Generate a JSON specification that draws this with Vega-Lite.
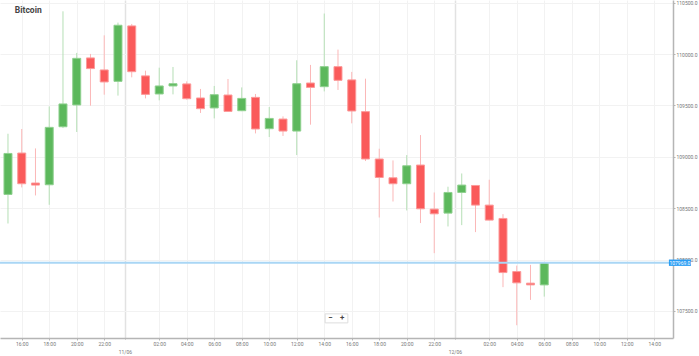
{
  "$schema": "https://vega.github.io/schema/vega-lite/v6.json",
  "width": 673,
  "height": 338,
  "autosize": "none",
  "padding": {"top": 0, "left": 0, "right": 26, "bottom": 18},
  "background": "white",
  "config": {"view": {"stroke": null}, "font": "Roboto"},
  "data": {"values": [
    {"t": "2025-06-10T15:00", "open": 108634, "high": 109225, "low": 108351, "close": 109033},
    {"t": "2025-06-10T16:00", "open": 109037, "high": 109271, "low": 108702, "close": 108738},
    {"t": "2025-06-10T17:00", "open": 108745, "high": 109082, "low": 108624, "close": 108725},
    {"t": "2025-06-10T18:00", "open": 108728, "high": 109491, "low": 108533, "close": 109287},
    {"t": "2025-06-10T19:00", "open": 109293, "high": 110417, "low": 109280, "close": 109515},
    {"t": "2025-06-10T20:00", "open": 109505, "high": 110012, "low": 109242, "close": 109959},
    {"t": "2025-06-10T21:00", "open": 109963, "high": 110002, "low": 109498, "close": 109859},
    {"t": "2025-06-10T22:00", "open": 109846, "high": 110183, "low": 109605, "close": 109729},
    {"t": "2025-06-10T23:00", "open": 109735, "high": 110307, "low": 109596, "close": 110281},
    {"t": "2025-06-11T00:00", "open": 110275, "high": 110294, "low": 109774, "close": 109829},
    {"t": "2025-06-11T01:00", "open": 109788, "high": 109839, "low": 109569, "close": 109608},
    {"t": "2025-06-11T02:00", "open": 109612, "high": 109868, "low": 109550, "close": 109690},
    {"t": "2025-06-11T03:00", "open": 109690, "high": 109875, "low": 109608, "close": 109712},
    {"t": "2025-06-11T04:00", "open": 109710, "high": 109735, "low": 109557, "close": 109566},
    {"t": "2025-06-11T05:00", "open": 109573, "high": 109661, "low": 109427, "close": 109469},
    {"t": "2025-06-11T06:00", "open": 109476, "high": 109690, "low": 109374, "close": 109605},
    {"t": "2025-06-11T07:00", "open": 109602, "high": 109758, "low": 109440, "close": 109442},
    {"t": "2025-06-11T08:00", "open": 109449, "high": 109676, "low": 109445, "close": 109569},
    {"t": "2025-06-11T09:00", "open": 109579, "high": 109612, "low": 109228, "close": 109271},
    {"t": "2025-06-11T10:00", "open": 109274, "high": 109485, "low": 109193, "close": 109374},
    {"t": "2025-06-11T11:00", "open": 109368, "high": 109394, "low": 109203, "close": 109251},
    {"t": "2025-06-11T12:00", "open": 109251, "high": 109940, "low": 109017, "close": 109712},
    {"t": "2025-06-11T13:00", "open": 109719, "high": 109895, "low": 109313, "close": 109676},
    {"t": "2025-06-11T14:00", "open": 109683, "high": 110395, "low": 109637, "close": 109878},
    {"t": "2025-06-11T15:00", "open": 109878, "high": 110044, "low": 109651, "close": 109745},
    {"t": "2025-06-11T16:00", "open": 109749, "high": 109827, "low": 109326, "close": 109446},
    {"t": "2025-06-11T17:00", "open": 109440, "high": 109761, "low": 108959, "close": 108979},
    {"t": "2025-06-11T18:00", "open": 108979, "high": 109079, "low": 108409, "close": 108799},
    {"t": "2025-06-11T19:00", "open": 108796, "high": 108965, "low": 108565, "close": 108738},
    {"t": "2025-06-11T20:00", "open": 108738, "high": 109017, "low": 108478, "close": 108913},
    {"t": "2025-06-11T21:00", "open": 108920, "high": 109212, "low": 108355, "close": 108494},
    {"t": "2025-06-11T22:00", "open": 108491, "high": 108653, "low": 108062, "close": 108445},
    {"t": "2025-06-11T23:00", "open": 108452, "high": 108709, "low": 108322, "close": 108653},
    {"t": "2025-06-12T00:00", "open": 108653, "high": 108838, "low": 108335, "close": 108725},
    {"t": "2025-06-12T01:00", "open": 108721, "high": 108725, "low": 108267, "close": 108530},
    {"t": "2025-06-12T02:00", "open": 108530, "high": 108777, "low": 108380, "close": 108384},
    {"t": "2025-06-12T03:00", "open": 108400, "high": 108442, "low": 107731, "close": 107873},
    {"t": "2025-06-12T04:00", "open": 107883, "high": 107941, "low": 107360, "close": 107773},
    {"t": "2025-06-12T05:00", "open": 107770, "high": 107948, "low": 107607, "close": 107753},
    {"t": "2025-06-12T06:00", "open": 107753, "high": 107969, "low": 107639, "close": 107969}
  ]},
  "resolve": {"axis": {"x": "independent", "y": "independent"}},
  "layer": [
    {
      "mark": {"type": "rule", "strokeWidth": 1},
      "encoding": {
        "x": {
          "field": "t", "type": "temporal", "title": null,
          "scale": {"domain": [{"year": 2025, "month": 6, "date": 10, "hours": 14, "minutes": 47}, {"year": 2025, "month": 6, "date": 12, "hours": 15}]},
          "axis": {
            "values": [
              {"year": 2025, "month": 6, "date": 10, "hours": 16},
              {"year": 2025, "month": 6, "date": 10, "hours": 18},
              {"year": 2025, "month": 6, "date": 10, "hours": 20},
              {"year": 2025, "month": 6, "date": 10, "hours": 22},
              {"year": 2025, "month": 6, "date": 10, "hours": 23, "minutes": 30},
              {"year": 2025, "month": 6, "date": 11, "hours": 2},
              {"year": 2025, "month": 6, "date": 11, "hours": 4},
              {"year": 2025, "month": 6, "date": 11, "hours": 6},
              {"year": 2025, "month": 6, "date": 11, "hours": 8},
              {"year": 2025, "month": 6, "date": 11, "hours": 10},
              {"year": 2025, "month": 6, "date": 11, "hours": 12},
              {"year": 2025, "month": 6, "date": 11, "hours": 14},
              {"year": 2025, "month": 6, "date": 11, "hours": 16},
              {"year": 2025, "month": 6, "date": 11, "hours": 18},
              {"year": 2025, "month": 6, "date": 11, "hours": 20},
              {"year": 2025, "month": 6, "date": 11, "hours": 22},
              {"year": 2025, "month": 6, "date": 11, "hours": 23, "minutes": 30},
              {"year": 2025, "month": 6, "date": 12, "hours": 2},
              {"year": 2025, "month": 6, "date": 12, "hours": 4},
              {"year": 2025, "month": 6, "date": 12, "hours": 6},
              {"year": 2025, "month": 6, "date": 12, "hours": 8},
              {"year": 2025, "month": 6, "date": 12, "hours": 10},
              {"year": 2025, "month": 6, "date": 12, "hours": 12},
              {"year": 2025, "month": 6, "date": 12, "hours": 14}
            ],
            "labelExpr": "minutes(datum.value) == 30 ? ['', timeFormat(time(datum.value) + 1800000, '%d/%m')] : timeFormat(datum.value, '%H:%M')",
            "labelFontSize": 5,
            "labelColor": "#777",
            "labelLineHeight": 8,
            "labelPadding": 1.5,
            "labelFlush": false,
            "labelOverlap": false,
            "domainColor": "#b5b5b5",
            "domainWidth": 1.5,
            "tickColor": {"condition": {"test": "minutes(datum.value) == 30", "value": "#aaa"}, "value": "#b5b5b5"},
            "tickSize": 2,
            "tickDash": {"condition": {"test": "minutes(datum.value) == 30", "value": [1, 1]}, "value": []},
            "grid": true,
            "gridColor": {"condition": {"test": "minutes(datum.value) == 30", "value": "#e2e2e2"}, "value": "#f2f2f2"},
            "gridWidth": {"condition": {"test": "minutes(datum.value) == 30", "value": 1.5}, "value": 1}
          }
        },
        "y": {
          "field": "low", "type": "quantitative", "title": null,
          "scale": {"domain": [107236, 110527], "nice": false, "zero": false},
          "axis": {
            "orient": "right",
            "values": [107500, 108000, 108500, 109000, 109500, 110000, 110500],
            "format": ".1f",
            "labelFontSize": 5,
            "labelColor": "#777",
            "labelPadding": 1,
            "tickSize": 2,
            "tickColor": "#b5b5b5",
            "domainColor": "#b5b5b5",
            "domainWidth": 1.5,
            "grid": true,
            "gridColor": "#f2f2f2"
          }
        },
        "y2": {"field": "high"},
        "color": {"condition": {"test": "datum.open < datum.close", "value": "#b5dfb5"}, "value": "#fbb8b8"}
      }
    },
    {
      "mark": {"type": "bar", "size": 8, "strokeWidth": 1},
      "encoding": {
        "x": {"field": "t", "type": "temporal", "axis": null},
        "y": {"field": "open", "type": "quantitative", "axis": null},
        "y2": {"field": "close"},
        "fill": {"condition": {"test": "datum.open < datum.close", "value": "#5cb85c"}, "value": "#fa5a5a"},
        "stroke": {"condition": {"test": "datum.open < datum.close", "value": "#8fd08f"}, "value": "#fc9a9a"}
      }
    },
    {
      "data": {"values": [{}]},
      "mark": {"type": "rule", "color": "#a9d6f5", "strokeWidth": 2},
      "encoding": {"y": {"datum": 107969, "type": "quantitative", "axis": null}}
    },
    {
      "data": {"values": [{}]},
      "mark": {"type": "rect", "fill": "#2a9df4", "clip": false},
      "encoding": {
        "x": {"datum": {"year": 2025, "month": 6, "date": 12, "hours": 15, "minutes": 4}, "type": "temporal", "axis": null},
        "x2": {"datum": {"year": 2025, "month": 6, "date": 12, "hours": 16, "minutes": 40}},
        "y": {"datum": 108000, "type": "quantitative", "axis": null},
        "y2": {"datum": 107938}
      }
    },
    {
      "data": {"values": [{}]},
      "mark": {"type": "text", "color": "white", "fontSize": 5, "align": "center", "baseline": "middle", "clip": false},
      "encoding": {
        "x": {"datum": {"year": 2025, "month": 6, "date": 12, "hours": 15, "minutes": 52}, "type": "temporal", "axis": null},
        "y": {"datum": 107969, "type": "quantitative", "axis": null},
        "text": {"value": "107969.0"}
      }
    },
    {
      "data": {"values": [{}]},
      "mark": {"type": "rect", "fill": "white", "stroke": "#dddddd", "strokeWidth": 1},
      "encoding": {
        "x": {"datum": {"year": 2025, "month": 6, "date": 11, "hours": 14, "minutes": 4}, "type": "temporal", "axis": null},
        "x2": {"datum": {"year": 2025, "month": 6, "date": 11, "hours": 15, "minutes": 43}},
        "y": {"datum": 107471, "type": "quantitative", "axis": null},
        "y2": {"datum": 107383}
      }
    },
    {
      "data": {"values": [{}]},
      "mark": {"type": "text", "color": "#444", "fontSize": 8, "fontWeight": "bold", "align": "center", "baseline": "middle"},
      "encoding": {
        "x": {"datum": {"year": 2025, "month": 6, "date": 11, "hours": 14, "minutes": 27}, "type": "temporal", "axis": null},
        "y": {"datum": 107427, "type": "quantitative", "axis": null},
        "text": {"value": "−"}
      }
    },
    {
      "data": {"values": [{}]},
      "mark": {"type": "text", "color": "#444", "fontSize": 8, "fontWeight": "bold", "align": "center", "baseline": "middle"},
      "encoding": {
        "x": {"datum": {"year": 2025, "month": 6, "date": 11, "hours": 15, "minutes": 18}, "type": "temporal", "axis": null},
        "y": {"datum": 107427, "type": "quantitative", "axis": null},
        "text": {"value": "+"}
      }
    },
    {
      "data": {"values": [{}]},
      "mark": {"type": "text", "color": "#444", "fontSize": 8.5, "fontWeight": "bold", "align": "left", "baseline": "alphabetic"},
      "encoding": {
        "x": {"datum": {"year": 2025, "month": 6, "date": 10, "hours": 15, "minutes": 30}, "type": "temporal", "axis": null},
        "y": {"datum": 110400, "type": "quantitative", "axis": null},
        "text": {"value": "Bitcoin"}
      }
    }
  ]
}
